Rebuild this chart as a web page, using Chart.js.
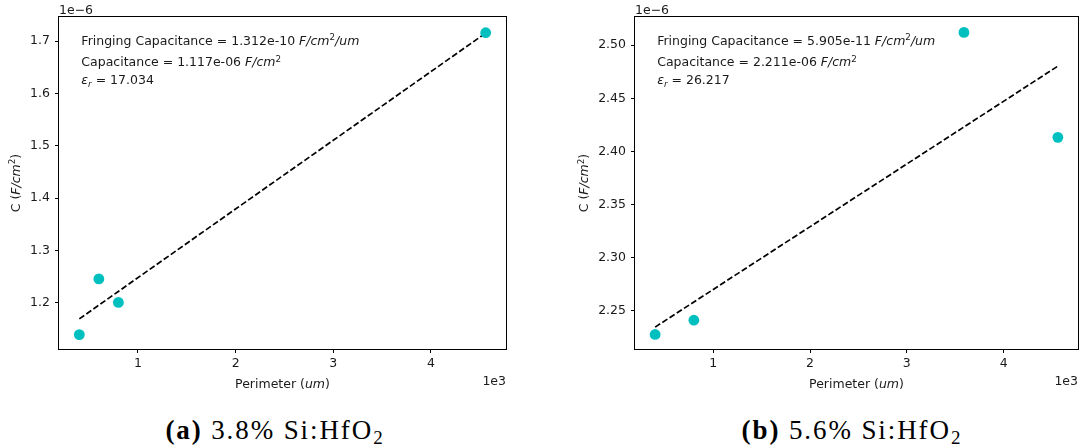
<!DOCTYPE html>
<html>
<head>
<meta charset="utf-8">
<script src="https://cdn.jsdelivr.net/npm/chart.js@4.4.1/dist/chart.umd.min.js"></script>
<style>
  body { margin: 0; background: #fff; width: 1086px; height: 448px; position: relative; overflow: hidden; }
  canvas { position: absolute; top: 0; }
  #chartA { left: 0; }
  #chartB { left: 560px; }
  .caption { position: absolute; top: 415px; width: 320px; text-align: center; font-family: "Liberation Serif", serif; font-size: 27px; color: #000; letter-spacing: 1.9px; white-space: nowrap; }
  .caption sub { font-size: 19px; vertical-align: -5px; line-height: 0; letter-spacing: 0; }
</style>
</head>
<body>
<canvas id="chartA" width="540" height="400"></canvas>
<canvas id="chartB" width="526" height="400"></canvas>
<div class="caption" style="left:114px"><b>(a)</b> 3.8% Si:HfO<sub>2</sub></div>
<div class="caption" style="left:691px"><b>(b)</b> 5.6% Si:HfO<sub>2</sub></div>
<script>
// perimeter in um, capacitance in units of 1e-6 F/cm^2
const perimA = [400, 600, 800, 4560];
const capA = [1.1395, 1.2458, 1.201, 1.716];
const perimB = [400, 800, 3590, 4560];
const capB = [2.2277, 2.2411, 2.512, 2.4132];

// linear fit results: fringing (F/cm^2/um), area capacitance (F/cm^2), eps_r
const fringeA = 1.312e-10, areaCapA = 1.117e-6, epsA = 17.034;
const fringeB = 5.905e-11, areaCapB = 2.211e-6, epsB = 26.217;

const xTicks = [1000, 2000, 3000, 4000];
const yTicksA = [1.2, 1.3, 1.4, 1.5, 1.6, 1.7];
const yTicksB = [2.25, 2.30, 2.35, 2.40, 2.45, 2.50];

const FONT = '"DejaVu Sans"';
const TEXT = '#1a1a1a';
Chart.defaults.font.family = FONT;
Chart.defaults.font.size = 12.5;
Chart.defaults.color = TEXT;

// python-style %.3e
function sci(v) {
  const [m, e] = v.toExponential(3).split('e');
  const n = parseInt(e, 10);
  return m + 'e' + (n < 0 ? '-' : '+') + String(Math.abs(n)).padStart(2, '0');
}

// text made of pieces: {t, it, sup, sub}
function richText(ctx, segs, x, y, size, align) {
  const font = s => (s.it ? 'italic ' : '') + ((s.sup || s.sub) ? size * 0.7 : size) + 'px ' + FONT;
  let w = 0;
  segs.forEach(s => { ctx.font = font(s); s.w = ctx.measureText(s.t).width; w += s.w; });
  let cx = align === 'center' ? x - w / 2 : align === 'right' ? x - w : x;
  ctx.textAlign = 'left';
  ctx.textBaseline = 'alphabetic';
  segs.forEach(s => {
    ctx.font = font(s);
    const dy = s.sup ? -size * 0.36 : s.sub ? size * 0.22 : 0;
    ctx.fillText(s.t, cx, y + dy);
    cx += s.w;
  });
}

const decor = {
  id: 'decor',
  afterDraw(chart, args, o) {
    const { ctx, chartArea: a } = chart;
    const s = 12.5;
    ctx.save();
    ctx.strokeStyle = '#000';
    ctx.lineWidth = 1;
    ctx.strokeRect(a.left - 0.5, a.top - 0.5, a.right - a.left + 1, a.bottom - a.top + 1);
    ctx.fillStyle = TEXT;

    // offset labels
    richText(ctx, [{ t: '1e\u22126' }], a.left, a.top - 3, s, 'left');
    richText(ctx, [{ t: '1e3' }], a.right, a.bottom + 36, s, 'right');

    // axis titles
    richText(ctx, [{ t: 'Perimeter (' }, { t: 'um', it: 1 }, { t: ')' }], (a.left + a.right) / 2, a.bottom + 39, s, 'center');
    ctx.save();
    ctx.translate(o.yTitleX, (a.top + a.bottom) / 2);
    ctx.rotate(-Math.PI / 2);
    richText(ctx, [{ t: 'C (' }, { t: 'F/cm', it: 1 }, { t: '2', sup: 1 }, { t: ')' }], 0, 0, s, 'center');
    ctx.restore();

    // fit summary
    const x0 = a.left + 0.05 * (a.right - a.left);
    richText(ctx, [{ t: 'Fringing Capacitance = ' + sci(o.fringe) + ' ' }, { t: 'F/cm', it: 1 }, { t: '2', sup: 1 }, { t: '/um', it: 1 }], x0, a.top + 27.5, s, 'left');
    richText(ctx, [{ t: 'Capacitance = ' + sci(o.areaCap) + ' ' }, { t: 'F/cm', it: 1 }, { t: '2', sup: 1 }], x0, a.top + 49, s, 'left');
    richText(ctx, [{ t: '\u03b5', it: 1 }, { t: 'r', it: 1, sub: 1 }, { t: ' = ' + o.eps.toFixed(3) }], x0, a.top + 67, s, 'left');
    ctx.restore();
  }
};

function makeChart(id, c) {
  const pts = c.perim.map((p, i) => ({ x: p, y: c.cap[i] }));
  const ends = [c.perim[0], c.perim[c.perim.length - 1]];
  const fit = ends.map(p => ({ x: p, y: (c.areaCap + c.fringe * p) * 1e6 }));

  return new Chart(document.getElementById(id), {
    type: 'scatter',
    data: {
      datasets: [
        { data: pts, backgroundColor: '#00bfbf', borderWidth: 0, pointRadius: 5.4 },
        { data: fit, showLine: true, borderColor: '#000', borderWidth: 1.7, borderDash: [6, 2.6], pointRadius: 0, fill: false }
      ]
    },
    options: {
      responsive: false,
      animation: false,
      events: [],
      layout: { padding: { left: 0, top: 17, right: c.padRight, bottom: 0 } },
      plugins: {
        legend: { display: false },
        tooltip: { enabled: false },
        decor: { yTitleX: c.yTitleX, fringe: c.fringe, areaCap: c.areaCap, eps: c.eps }
      },
      scales: {
        x: {
          type: 'linear',
          min: 192, max: 4768,
          afterBuildTicks: s => { s.ticks = xTicks.map(v => ({ value: v })); },
          afterFit: s => { s.height = 51; },
          ticks: { callback: v => String(v / 1000), padding: 3, maxRotation: 0 },
          grid: { drawOnChartArea: false, color: '#000', tickLength: 4 },
          border: { display: false }
        },
        y: {
          type: 'linear',
          min: c.yMin, max: c.yMax,
          afterBuildTicks: s => { s.ticks = c.yTicks.map(v => ({ value: v })); },
          afterFit: s => { s.width = c.yWidth; },
          ticks: { callback: v => v.toFixed(c.dec), padding: 5 },
          grid: { drawOnChartArea: false, color: '#000', tickLength: 4 },
          border: { display: false }
        }
      }
    },
    plugins: [decor]
  });
}

makeChart('chartA', {
  perim: perimA, cap: capA, fringe: fringeA, areaCap: areaCapA, eps: epsA,
  yTicks: yTicksA, yMin: 1.112, yMax: 1.746, dec: 1,
  yWidth: 59, padRight: 34, yTitleX: 19.5
});
makeChart('chartB', {
  perim: perimB, cap: capB, fringe: fringeB, areaCap: areaCapB, eps: epsB,
  yTicks: yTicksB, yMin: 2.214, yMax: 2.5265, dec: 2,
  yWidth: 75, padRight: 8, yTitleX: 28
});
</script>
</body>
</html>
